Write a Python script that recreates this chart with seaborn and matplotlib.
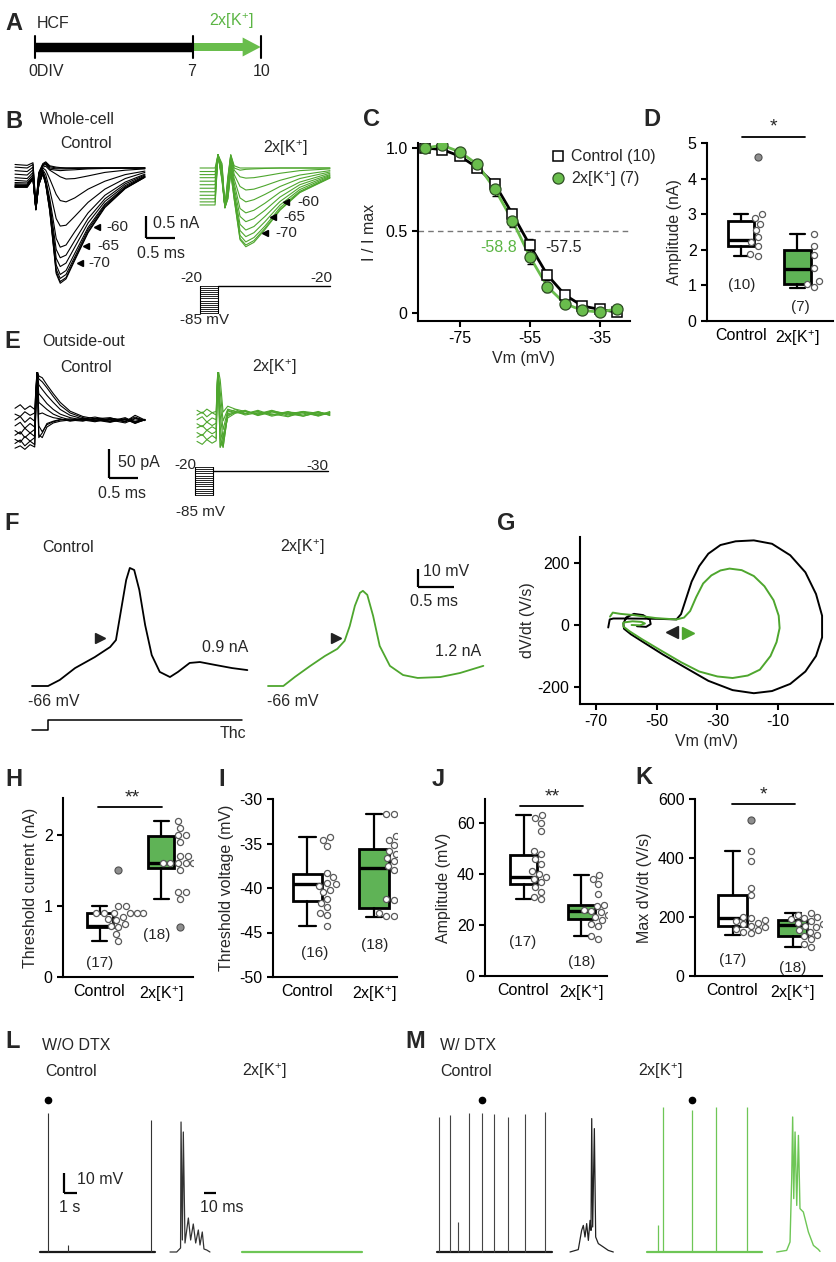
import matplotlib
matplotlib.use("Agg")
import matplotlib.pyplot as plt
import seaborn as sns
import pandas as pd

W, H = 837, 1262

GREEN_TRACE = "#4ea62e"
GREEN_FILL = "#5fb356"
GREEN_DOT = "#69bd4c"
GREEN_TEXT = "#5bb544"
GREEN_LONG = "#6ec656"
GREY_PT = "#5a5a5a"
K_LABEL = r"2x[K$^{+}$]"

# ---------------- data ----------------
# A: culture timeline (days in vitro)
timeline_days = [0, 7, 10]

# B: whole-cell Na+ currents (time in ms, current in nA)
b_ctrl_t = [0, 0.21, 0.31, 0.36, 0.41, 0.48, 0.53, 0.60, 0.71, 0.78, 0.88, 1.03, 1.26, 1.55, 1.90, 2.24]
b_ctrl_traces = [
    [0.08, 0.06, 0.12, -0.85, -0.10, 0.10, 0.14, 0.05, 0.02, 0.01, 0.0, 0.0, 0.0, 0.0, 0.0, 0.0],
    [0.02, 0.0, 0.08, -0.87, -0.12, 0.08, 0.12, 0.03, 0.0, 0.0, 0.0, 0.0, 0.0, 0.0, 0.0, 0.0],
    [-0.06, -0.08, 0.02, -0.88, -0.14, 0.07, 0.10, 0.0, -0.02, -0.02, -0.02, -0.01, 0.0, 0.0, 0.0, 0.0],
    [-0.14, -0.16, -0.04, -0.90, -0.16, 0.05, 0.08, -0.03, -0.05, -0.06, -0.05, -0.04, -0.02, -0.01, 0.0, 0.0],
    [-0.22, -0.24, -0.10, -0.90, -0.20, 0.02, 0.04, -0.05, -0.14, -0.20, -0.25, -0.24, -0.18, -0.10, -0.05, -0.02],
    [-0.28, -0.30, -0.15, -0.92, -0.25, 0.0, -0.05, -0.25, -0.60, -0.74, -0.77, -0.68, -0.48, -0.30, -0.15, -0.07],
    [-0.33, -0.34, -0.20, -0.92, -0.30, -0.04, -0.15, -0.50, -1.15, -1.32, -1.30, -1.10, -0.78, -0.48, -0.24, -0.10],
    [-0.36, -0.37, -0.20, -0.93, -0.32, -0.07, -0.25, -0.70, -1.60, -1.80, -1.75, -1.45, -1.02, -0.62, -0.32, -0.14],
    [-0.38, -0.39, -0.22, -0.93, -0.35, -0.09, -0.30, -0.80, -1.85, -2.04, -1.98, -1.65, -1.15, -0.70, -0.36, -0.16],
    [-0.40, -0.40, -0.22, -0.94, -0.36, -0.10, -0.32, -0.85, -2.05, -2.24, -2.16, -1.80, -1.25, -0.76, -0.40, -0.18],
    [-0.41, -0.41, -0.23, -0.94, -0.37, -0.11, -0.35, -0.90, -2.20, -2.42, -2.33, -1.94, -1.35, -0.82, -0.43, -0.19],
    [-0.42, -0.42, -0.24, -0.95, -0.38, -0.12, -0.36, -0.95, -2.30, -2.51, -2.42, -2.02, -1.40, -0.85, -0.45, -0.20],
    [-0.43, -0.43, -0.24, -0.95, -0.38, -0.12, -0.37, -0.97, -2.36, -2.58, -2.49, -2.07, -1.45, -0.88, -0.46, -0.21],
    [-0.44, -0.44, -0.25, -0.95, -0.39, -0.13, -0.38, -0.99, -2.40, -2.62, -2.52, -2.10, -1.47, -0.90, -0.47, -0.21],
]
b_hk_t = [0, 0.26, 0.31, 0.38, 0.43, 0.48, 0.53, 0.59, 0.69, 0.79, 0.93, 1.12, 1.38, 1.72, 2.24]
b_hk_traces = [
    [0.0, 0.0, 0.30, 0.10, -0.90, -0.20, 0.30, 0.05, 0.0, 0.0, 0.0, 0.0, 0.0, 0.0, 0.0],
    [-0.08, -0.08, 0.30, 0.05, -0.90, -0.25, 0.30, 0.0, -0.05, -0.03, -0.02, -0.01, 0.0, 0.0, 0.0],
    [-0.15, -0.15, 0.30, 0.0, -0.90, -0.30, 0.28, -0.05, -0.20, -0.23, -0.22, -0.18, -0.12, -0.06, -0.02],
    [-0.22, -0.22, 0.30, -0.05, -0.90, -0.35, 0.25, -0.15, -0.42, -0.50, -0.48, -0.40, -0.28, -0.16, -0.06],
    [-0.30, -0.30, 0.30, -0.10, -0.90, -0.40, 0.20, -0.25, -0.68, -0.77, -0.72, -0.60, -0.42, -0.24, -0.09],
    [-0.38, -0.38, 0.30, -0.10, -0.90, -0.45, 0.15, -0.35, -0.92, -1.02, -0.96, -0.80, -0.55, -0.32, -0.12],
    [-0.46, -0.46, 0.30, -0.15, -0.90, -0.50, 0.10, -0.45, -1.10, -1.22, -1.15, -0.96, -0.66, -0.38, -0.15],
    [-0.54, -0.54, 0.30, -0.20, -0.90, -0.55, 0.05, -0.55, -1.28, -1.41, -1.33, -1.10, -0.76, -0.44, -0.17],
    [-0.62, -0.62, 0.30, -0.20, -0.90, -0.60, 0.0, -0.60, -1.42, -1.56, -1.47, -1.22, -0.84, -0.49, -0.19],
    [-0.70, -0.70, 0.30, -0.25, -0.90, -0.65, -0.05, -0.65, -1.53, -1.68, -1.58, -1.32, -0.90, -0.53, -0.21],
    [-0.77, -0.77, 0.30, -0.25, -0.90, -0.70, -0.10, -0.70, -1.60, -1.75, -1.65, -1.37, -0.94, -0.55, -0.22],
    [-0.84, -0.84, 0.30, -0.30, -0.90, -0.70, -0.10, -0.72, -1.63, -1.79, -1.69, -1.40, -0.96, -0.56, -0.23],
]
step_levels = [-85, -80, -75, -70, -65, -60, -55, -50, -45, -40, -35, -30, -25, -20]
b_hold = -20
e_hold = -30

# C: steady-state inactivation (Vm in mV, I/Imax)
c_vm = [-85, -80, -75, -70, -65, -60, -55, -50, -45, -40, -35, -30]
c_ctrl = [1.0, 0.99, 0.95, 0.88, 0.78, 0.60, 0.41, 0.23, 0.11, 0.043, 0.022, 0.006]
c_ctrl_err = [0.0, 0.01, 0.01, 0.02, 0.03, 0.03, 0.04, 0.03, 0.02, 0.01, 0.01, 0.01]
c_hk = [1.0, 1.016, 0.976, 0.90, 0.75, 0.56, 0.34, 0.16, 0.057, 0.016, 0.006, 0.026]
c_hk_err = [0.0, 0.01, 0.01, 0.02, 0.04, 0.04, 0.04, 0.03, 0.02, 0.01, 0.01, 0.01]

# D: whole-cell current amplitude (nA) -> [whislo, q1, med, q3, whishi]
d_ctrl = [3.0, 2.88, 2.72, 2.55, 2.35, 2.22, 2.12, 1.88, 1.82]
d_ctrl_out = [4.62]
d_ctrl_box = [1.82, 2.1, 2.27, 2.8, 3.0]
d_hk = [2.45, 2.1, 1.85, 1.48, 1.12, 1.03, 0.95]
d_hk_out = []
d_hk_box = [0.93, 1.05, 1.45, 2.0, 2.45]

# E: outside-out currents (ms, pA)
e_ctrl_t = [0, 0.09, 0.17, 0.26, 0.34, 0.38, 0.41, 0.47, 0.55, 0.66, 0.78, 0.95, 1.17, 1.38, 1.64, 1.90, 2.07, 2.24]
e_ctrl_traces = [
    [20, 26, 18, 24, 18, 85, 75, 72, 60, 45, 30, 15, 6, 2, 4, -3, 3, 0],
    [10, 6, 14, 8, 12, 85, 70, 65, 55, 40, 25, 12, 4, 0, -4, 2, -2, 1],
    [0, 6, -4, 4, -2, 85, 60, 52, 42, 30, 18, 8, 2, 5, 0, -5, 2, -1],
    [-10, -4, -14, -6, -12, 85, 45, 38, 28, 18, 10, 4, 0, -3, 3, 0, -3, 1],
    [-18, -24, -14, -22, -16, 85, 30, 25, 18, 10, 5, 0, -2, 3, -2, 4, -4, 0],
    [-26, -20, -30, -22, -28, 85, 10, 12, 8, 4, 2, -2, 1, -1, 2, -2, 5, -1],
    [-33, -38, -28, -36, -30, 85, -10, -20, -8, -3, 0, 2, -1, 2, -3, 1, -5, 0],
    [-40, -34, -44, -36, -42, 85, -25, -30, -12, -5, -2, 0, 2, -2, 1, -3, 8, 0],
    [-48, -44, -50, -42, -46, 85, -30, -22, -6, -2, 1, -1, 3, 0, -2, 2, -6, 1],
]
e_hk_t = [0, 0.09, 0.17, 0.26, 0.33, 0.36, 0.40, 0.45, 0.53, 0.66, 0.83, 1.05, 1.29, 1.57, 1.83, 2.09, 2.29]
e_hk_traces = [
    [8, 3, 10, 4, 6, 80, 60, 5, 15, 10, 6, 2, 8, 0, 6, -2, 4],
    [0, 5, -3, 4, 0, 80, 40, -10, 10, 6, 2, 8, 0, 6, -2, 4, 0],
    [-8, -3, -12, -5, -8, 80, 20, -25, 8, 4, 8, 0, 6, -2, 5, 0, 3],
    [-15, -20, -12, -18, -14, 80, 0, -40, 5, 9, 3, 6, -2, 4, 0, 6, -1],
    [-22, -18, -26, -20, -24, 80, -20, -55, 2, 6, 0, 4, 2, -3, 5, 1, 4],
    [-30, -35, -26, -32, -28, 80, -40, -55, 0, 4, 7, -1, 5, 2, -2, 5, 2],
    [-38, -33, -42, -35, -40, 80, -55, -45, -2, 5, 2, 6, 0, 5, 3, -1, 6],
    [-45, -50, -42, -48, -44, 80, -55, -35, -5, 3, 6, 1, 7, 2, 6, 3, 1],
]

# F: action potentials at threshold current (ms, mV)
f_ctrl_t = [0, 0.22, 0.38, 0.59, 0.86, 1.07, 1.15, 1.22, 1.29, 1.34, 1.40, 1.47, 1.55, 1.64, 1.75,
            1.89, 2.0, 2.16, 2.30, 2.51, 2.74, 2.95]
f_ctrl_v = [-66, -66, -62.7, -56.2, -50.2, -44.7, -40.9, -24.5, -8.1, -1.5, -2.6, -13.5, -32.7, -49.1,
            -58.3, -61.1, -58.3, -53.4, -52.9, -54.5, -56.2, -57.3]
f_hk_t = [0, 0.21, 0.37, 0.58, 0.78, 0.95, 1.05, 1.12, 1.19, 1.26, 1.30, 1.36, 1.44, 1.53, 1.67, 1.85,
          2.05, 2.36, 2.63, 2.95]
f_hk_v = [-66, -66, -61, -55, -49.6, -45.7, -41.3, -33.2, -22.2, -15.1, -14, -16.2, -27.7, -44.1, -55,
          -60, -61.6, -61.1, -58.9, -55]
f_step_t = [0, 0.22, 0.22, 2.88]
f_step_v = [-90, -90, -84.6, -84.6]

# G: phase plots (Vm in mV, dV/dt in V/s)
g_ctrl_vm = [-66, -65.5, -64.3, -60, -50, -43.5, -42, -40.5, -38.5, -36, -33, -29, -24, -18, -12, -6, -1,
             2.5, 4.5, 4.5, 2.5, -1, -6, -12, -18, -25, -33, -41, -48, -54, -58.5, -60.8, -61, -60, -57.5,
             -54.5, -52.3, -52, -53.5, -56.5]
g_ctrl_dvdt = [-8, 18, 21, 21, 20, 18, 35, 80, 140, 190, 230, 258, 270, 273, 262, 225, 170, 100, 30, -40,
               -100, -150, -190, -213, -220, -210, -180, -135, -95, -58, -30, -12, 5, 25, 36, 32, 18, 3,
               -6, -4]
g_hk_vm = [-65.4, -64.5, -62, -57.7, -50, -43.5, -41, -39, -37, -34.7, -32, -29, -26, -22, -18, -14.5,
           -11.5, -9.8, -9.5, -10.5, -12.5, -16, -20, -25, -30, -36, -42, -49, -55, -59, -61, -61, -58,
           -55, -53.9, -55.5, -58.3]
g_hk_dvdt = [27, 40, 36, 32, 22, 18, 24, 45, 90, 134, 160, 176, 182, 177, 158, 125, 80, 30, -10, -55,
             -100, -144, -163, -171, -166, -150, -120, -80, -45, -20, -5, 8, 12, 10, 5, -1, 0]

# H-K: AP properties -> [whislo, q1, med, q3, whishi]
h_ctrl = [1.0, 1.0, 0.9, 0.9, 0.9, 0.9, 0.9, 0.9, 0.85, 0.82, 0.8, 0.75, 0.72, 0.7, 0.6, 0.5]
h_ctrl_out = [1.5]
h_ctrl_box = [0.5, 0.7, 0.72, 0.9, 1.0]
h_hk = [2.2, 2.1, 2.0, 2.0, 1.9, 1.7, 1.7, 1.6, 1.6, 1.6, 1.6, 1.6, 1.6, 1.5, 1.2, 1.2, 1.1]
h_hk_out = [0.7]
h_hk_box = [1.1, 1.53, 1.6, 1.98, 2.2]

i_ctrl = [-34.3, -34.6, -35.3, -38.3, -38.8, -39.4, -39.6, -39.8, -40.2, -40.5, -41.2, -41.7, -42.1,
          -42.8, -43.0, -44.3]
i_ctrl_box = [-44.3, -41.5, -39.6, -38.4, -34.3]
i_hk = [-31.7, -31.7, -34.2, -34.6, -35.2, -35.8, -36.2, -36.6, -37.0, -37.5, -38.0, -41.2, -41.3, -42.5,
        -42.8, -43.0, -43.1, -43.2]
i_hk_box = [-43.3, -42.3, -37.7, -35.6, -31.7]

j_ctrl = [63, 62, 60, 57, 49, 48, 46, 44, 41, 40, 39, 38, 37, 35, 33, 31, 30]
j_ctrl_box = [30, 36, 39, 47.5, 63]
j_hk = [39.5, 38, 36, 32, 28, 27.5, 27, 26.5, 26, 25.5, 25, 24, 23, 22, 20.5, 19.5, 15.5, 14.5]
j_hk_box = [15.5, 22.5, 25.5, 28, 39.5]

k_ctrl = [425, 390, 300, 275, 200, 195, 190, 185, 180, 175, 170, 165, 160, 155, 150, 145]
k_ctrl_out = [530]
k_ctrl_box = [140, 168, 195, 275, 425]
k_hk = [212, 208, 200, 195, 192, 190, 185, 180, 175, 170, 165, 155, 150, 140, 135, 125, 110, 100]
k_hk_box = [98, 137, 172, 190, 212]

# L, M: spontaneous firing (s, mV above baseline) and expanded bursts (ms, mV)
l_ctrl_span = [0, 8.85]
l_ctrl_spike_t = [0.62, 2.15, 8.54]
l_ctrl_spike_v = [69.5, 3.5, 66]
l_burst_t = [0, 5.6, 8.8, 9.2, 10.3, 11.1, 12.5, 15.3, 17.2, 19.4, 21.4, 23.6, 25, 26.9, 28.3, 30.6, 33.3]
l_burst_v = [0, 0, 2, 65, 6, 60, 4.5, 17, 6, 14, 4.5, 11, 3.5, 10, 1.5, 1, 0]
l_hk_span = [0, 9.2]

m_ctrl_span = [0, 8.85]
m_ctrl_spike_t = [0.15, 1.0, 1.59, 2.49, 3.44, 4.41, 5.44, 6.77, 8.31]
m_ctrl_spike_v = [67.7, 68.5, 15, 69.7, 69.3, 69, 67.3, 69.2, 70.2]
m_ctrl_burst_t = [0, 6.9, 9.7, 11.1, 12.5, 13.9, 15.3, 16.7, 17.5, 18.1, 18.9, 20.3, 21.4, 23.6, 27.8, 31.9, 36.1]
m_ctrl_burst_v = [0, 1.2, 10.8, 13.3, 7.5, 14.2, 5.8, 15.8, 10.8, 66.7, 12.5, 61.7, 7.5, 4.2, 2.5, 0.8, 0]
m_hk_span = [0, 8.85]
m_hk_spike_t = [0.9, 1.23, 3.46, 5.31, 7.74]
m_hk_spike_v = [13.3, 72.7, 71, 72.7, 72.7]
m_hk_burst_t = [0, 8.3, 11.1, 12.5, 13.3, 14.2, 15.3, 16.7, 18.1, 19.4, 22.2, 23.6, 26.4, 30.6, 34.7, 36.1]
m_hk_burst_v = [0, 0.8, 5, 36.7, 67.5, 26.7, 60, 23.3, 58.3, 21.7, 20, 16.7, 10, 3.3, 1.3, 0.3]

# ---------------- style ----------------
FS = 11.5
sns.set_style("ticks")
plt.rcParams["font.family"] = ["Liberation Sans", "DejaVu Sans"]
plt.rcParams["mathtext.fontset"] = "custom"
plt.rcParams["mathtext.rm"] = "Liberation Sans"
plt.rcParams["mathtext.it"] = "Liberation Sans:italic"
plt.rcParams["axes.unicode_minus"] = False
plt.rcParams["font.size"] = FS
plt.rcParams["axes.linewidth"] = 1.5
plt.rcParams["axes.edgecolor"] = "black"
plt.rcParams["axes.facecolor"] = "none"
plt.rcParams["xtick.major.width"] = 1.5
plt.rcParams["ytick.major.width"] = 1.5
plt.rcParams["xtick.major.size"] = 4
plt.rcParams["ytick.major.size"] = 4
plt.rcParams["xtick.labelsize"] = FS
plt.rcParams["ytick.labelsize"] = FS
plt.rcParams["axes.labelsize"] = FS
plt.rcParams["xtick.color"] = "black"
plt.rcParams["ytick.color"] = "black"

fig = plt.figure(figsize=(W / 100, H / 100), dpi=100)
fig.patch.set_facecolor("white")


def px_axes(x0, y0, x1, y1):
    return fig.add_axes([x0 / W, 1 - y1 / H, (x1 - x0) / W, (y1 - y0) / H])


def trace_axes(x0, x1, y0, y1, px_t0, x_scale, px_v0, v0, y_scale):
    # axes placed in pixel box; data scale given in px per unit
    ax = px_axes(x0, y0, x1, y1)
    ax.set_xlim((x0 - px_t0) / x_scale, (x1 - px_t0) / x_scale)
    ax.set_ylim(v0 - (y1 - px_v0) / y_scale, v0 + (px_v0 - y0) / y_scale)
    ax.axis("off")
    return ax


def scale_bar(ax, x, y, dx, dy):
    ax.plot([x, x], [y, y + dy], color="black", lw=1.6, clip_on=False, solid_capstyle="butt")
    ax.plot([x, x + dx], [y, y], color="black", lw=1.6, clip_on=False, solid_capstyle="butt")


def protocol(ax, hold, t_end):
    for lv in step_levels:
        ax.plot([0, 0.31], [lv, lv], color="black", lw=0.6)
    ax.plot([0, 0], [step_levels[0], step_levels[-1]], color="black", lw=0.8)
    ax.plot([0.31, 0.31], [step_levels[0], step_levels[-1]], color="black", lw=0.8)
    ax.plot([0.31, t_end], [hold, hold], color="black", lw=1.0)


def box_panel(box, xlim, ylim, yticks, ylabel, ctrl, ctrl_out, ctrl_box, hk, hk_out, hk_box, width):
    ax = px_axes(*box)
    stats = [dict(whislo=b[0], q1=b[1], med=b[2], q3=b[3], whishi=b[4], fliers=[])
             for b in (ctrl_box, hk_box)]
    art = ax.bxp(stats, positions=[0, 1], widths=width, capwidths=width * 0.55,
                 patch_artist=True, showfliers=False,
                 boxprops=dict(linewidth=2.0, edgecolor="black"),
                 whiskerprops=dict(linewidth=1.6, color="black"),
                 capprops=dict(linewidth=1.6, color="black"),
                 medianprops=dict(linewidth=2.4, color="black"))
    art["boxes"][0].set_facecolor("white")
    art["boxes"][1].set_facecolor(GREEN_FILL)
    shift = 0.3
    pts = pd.DataFrame({"pos": [shift] * len(ctrl) + [1 + shift] * len(hk), "val": ctrl + hk})
    sns.swarmplot(data=pts, x="pos", y="val", native_scale=True, orient="x", ax=ax, size=4.4,
                  color="white", edgecolor=GREY_PT, linewidth=0.9, zorder=4)
    out = pd.DataFrame({"pos": [shift] * len(ctrl_out) + [1 + shift] * len(hk_out),
                        "val": ctrl_out + hk_out})
    if len(out):
        sns.scatterplot(data=out, x="pos", y="val", ax=ax, s=26, color="#8e8e8e",
                        edgecolor="#505050", linewidth=0.8, zorder=4)
    ax.set_xlim(*xlim)
    ax.set_ylim(*ylim)
    ax.set_xticks([0, 1])
    ax.set_xticklabels(["Control", K_LABEL])
    ax.tick_params(axis="x", length=0, pad=5)
    ax.set_yticks(yticks)
    ax.set_xlabel("")
    ax.set_ylabel(ylabel, labelpad=4)
    sns.despine(ax=ax)
    return ax


# ---------------- A ----------------
ax = trace_axes(30, 275, 34, 60, 35, 22.57, 47, 0, 1)
ax.plot(timeline_days[:2], [0, 0], color="black", lw=6.8, solid_capstyle="butt")
ax.arrow(timeline_days[1], 0, timeline_days[2] - timeline_days[1], 0, width=8, head_width=19,
         head_length=0.8, length_includes_head=True, color=GREEN_DOT, lw=0)
for d in timeline_days:
    ax.plot([d, d], [-11, 11], color="black", lw=1.5)

# ---------------- B ----------------
ax = trace_axes(12, 190, 145, 295, 15, 58, 168, 0, 44)
for tr in b_ctrl_traces:
    ax.plot(b_ctrl_t, tr, color="black", lw=0.8)
scale_bar(ax, 2.26, -1.59, 0.5, 0.5)
ax = trace_axes(195, 335, 150, 295, 200, 58, 168, 0, 44)
for tr in b_hk_traces:
    ax.plot(b_hk_t, tr, color=GREEN_TRACE, lw=0.8)
ax = trace_axes(195, 335, 280, 318, 200, 58, 286, -20, 0.415)
protocol(ax, b_hold, 2.24)

# ---------------- C ----------------
ax = px_axes(418, 143, 630, 321)
ax.axhline(0.5, color="#777777", lw=1.0, ls=(0, (4, 3)))
sns.lineplot(x=c_vm, y=c_ctrl, ax=ax, color="black", lw=2.0)
sns.lineplot(x=c_vm, y=c_hk, ax=ax, color=GREEN_DOT, lw=2.0)
ax.errorbar(c_vm, c_ctrl, yerr=c_ctrl_err, fmt="none", ecolor="black", elinewidth=1, capsize=2)
ax.errorbar(c_vm, c_hk, yerr=c_hk_err, fmt="none", ecolor="black", elinewidth=1, capsize=2)
sq = ax.plot(c_vm, c_ctrl, ls="none", marker="s", ms=7.5, mfc="white", mec="black", mew=1.1,
             label="Control (10)")[0]
ci = ax.plot(c_vm, c_hk, ls="none", marker="o", ms=8, mfc=GREEN_DOT, mec="#2f4f25", mew=0.9,
             label=K_LABEL + " (7)")[0]
ax.legend(handles=[sq, ci], loc="upper left", bbox_to_anchor=(0.6, 1.0), frameon=False,
          handlelength=0.8, handletextpad=0.4, labelspacing=0.3, borderaxespad=0, fontsize=FS)
ax.set_xlim(-87, -26.4)
ax.set_ylim(-0.048, 1.03)
ax.set_xticks([-75, -55, -35])
ax.set_yticks([0, 0.5, 1.0])
ax.set_yticklabels(["0", "0.5", "1.0"])
ax.set_xlabel("Vm (mV)", labelpad=3)
ax.set_ylabel("I / I max", labelpad=6)
sns.despine(ax=ax)

# ---------------- D ----------------
box_panel((707, 143, 833, 321), (-0.6, 1.63), (0, 5), [0, 1, 2, 3, 4, 5], "Amplitude (nA)",
          d_ctrl, d_ctrl_out, d_ctrl_box, d_hk, d_hk_out, d_hk_box, 0.47)

# ---------------- E ----------------
ax = trace_axes(12, 150, 372, 460, 15, 58, 420, 0, 0.587)
for tr in e_ctrl_traces:
    ax.plot(e_ctrl_t, tr, color="black", lw=0.8)
scale_bar(ax, 1.62, -98.8, 0.5, 50)
ax = trace_axes(192, 335, 372, 460, 197, 58, 415, 0, 0.587)
for tr in e_hk_traces:
    ax.plot(e_hk_t, tr, color=GREEN_TRACE, lw=0.8)
ax = trace_axes(190, 335, 462, 500, 195, 58, 467, -20, 0.43)
protocol(ax, e_hold, 2.3)

# ---------------- F ----------------
ax = trace_axes(20, 255, 555, 745, 32, 73, 686, -66, 1.83)
ax.plot(f_ctrl_t, f_ctrl_v, color="black", lw=1.3)
ax.plot(f_step_t, f_step_v, color="black", lw=1.1)
ax.plot([0.93], [-40], marker=">", ms=6.5, color="#222222")
ax = trace_axes(260, 495, 555, 745, 268, 73, 686, -66, 1.83)
ax.plot(f_hk_t, f_hk_v, color=GREEN_TRACE, lw=1.3)
ax.plot([0.93], [-39.8], marker=">", ms=6.5, color="#222222")
scale_bar(ax, 2.05, -11.9, 0.5, 10)

# ---------------- G ----------------
ax = px_axes(580, 537, 833, 704)
ax.plot(g_ctrl_vm, g_ctrl_dvdt, color="black", lw=1.4)
ax.plot(g_hk_vm, g_hk_dvdt, color=GREEN_TRACE, lw=1.4)
ax.plot([-44.9], [-22], marker="<", ms=8, color="#222222")
ax.plot([-39.7], [-26], marker=">", ms=8, color=GREEN_TRACE)
ax.set_xlim(-75.3, 8.1)
ax.set_ylim(-254.8, 283.9)
ax.set_xticks([-70, -50, -30, -10])
ax.set_yticks([-200, 0, 200])
ax.set_xlabel("Vm (mV)", labelpad=3)
ax.set_ylabel("dV/dt (V/s)", labelpad=2)
sns.despine(ax=ax)

# ---------------- H-K ----------------
box_panel((63, 798, 193, 977), (-0.59, 1.51), (0, 2.52), [0, 1, 2], "Threshold current (nA)",
          h_ctrl, h_ctrl_out, h_ctrl_box, h_hk, h_hk_out, h_hk_box, 0.42)
box_panel((273, 799, 397, 977), (-0.52, 1.35), (-50, -30), [-50, -45, -40, -35, -30],
          "Threshold voltage (mV)", i_ctrl, [], i_ctrl_box, i_hk, [], i_hk_box, 0.45)
box_panel((485, 799, 607, 976), (-0.67, 1.45), (0, 69.4), [0, 20, 40, 60], "Amplitude (mV)",
          j_ctrl, [], j_ctrl_box, j_hk, [], j_hk_box, 0.47)
box_panel((695, 799, 822, 976), (-0.625, 1.49), (0, 600), [0, 200, 400, 600], "Max dV/dt (V/s)",
          k_ctrl, k_ctrl_out, k_ctrl_box, k_hk, [], k_hk_box, 0.48)

# ---------------- L ----------------
ax = trace_axes(38, 160, 1095, 1258, 40, 13, 1252, 0, 2)
ax.plot(l_ctrl_span, [0, 0], color="#1a1a1a", lw=1.6)
ax.vlines(l_ctrl_spike_t, 0, l_ctrl_spike_v, color="#333333", lw=0.8)
scale_bar(ax, 1.85, 29.5, 1, 10)
ax = trace_axes(168, 216, 1095, 1258, 170, 1.2, 1252, 0, 2)
ax.plot(l_burst_t, l_burst_v, color="#333333", lw=0.9)
ax.plot([28.3, 38.3], [29.5, 29.5], color="black", lw=1.6, clip_on=False, solid_capstyle="butt")
ax = trace_axes(240, 365, 1095, 1258, 242, 13, 1252, 0, 2)
ax.plot(l_hk_span, [0, 0], color=GREEN_LONG, lw=1.6)

# ---------------- M ----------------
ax = trace_axes(435, 556, 1095, 1258, 437, 13, 1252, 0, 2)
ax.plot(m_ctrl_span, [0, 0], color="#1a1a1a", lw=1.6)
ax.vlines(m_ctrl_spike_t, 0, m_ctrl_spike_v, color="#444444", lw=0.8)
ax = trace_axes(568, 616, 1095, 1258, 570, 1.2, 1252, 0, 2)
ax.plot(m_ctrl_burst_t, m_ctrl_burst_v, color="#222222", lw=0.9)
ax = trace_axes(645, 765, 1095, 1258, 646.7, 13, 1252, 0, 2)
ax.plot(m_hk_span, [0, 0], color=GREEN_LONG, lw=1.6)
ax.vlines(m_hk_spike_t, 0, m_hk_spike_v, color=GREEN_LONG, lw=0.9)
ax = trace_axes(775, 822, 1095, 1258, 776.7, 1.2, 1252, 0, 2)
ax.plot(m_hk_burst_t, m_hk_burst_v, color=GREEN_LONG, lw=1.0)

# ---------------- text overlay (pixel coordinates) ----------------
canvas = fig.add_axes([0, 0, 1, 1], zorder=10)
canvas.set_xlim(0, W)
canvas.set_ylim(H, 0)
canvas.axis("off")


def txt(x, y, s, size=FS, ha="left", **kw):
    canvas.text(x, y, s, fontsize=size, ha=ha, va="center", **kw)


for letter, x, y in [("A", 5, 23), ("B", 5, 121), ("C", 363, 120), ("D", 643, 120), ("E", 4, 341),
                     ("F", 4, 524), ("G", 497, 524), ("H", 5, 779), ("I", 218, 779), ("J", 432, 779),
                     ("K", 635, 777), ("L", 5, 1041), ("M", 405, 1041)]:
    txt(x, y, letter, size=17, fontweight="bold")

# A
txt(37, 23, "HCF")
txt(209, 21, K_LABEL, color=GREEN_TEXT)
txt(28, 72, "0DIV")
txt(191.5, 72, "7", ha="center")
txt(261.5, 72, "10", ha="center")

# B
txt(40, 120, "Whole-cell")
txt(60, 144, "Control")
txt(263, 148, K_LABEL)
for ax_x, tx, y, s in [(97, 106, 227, "-60"), (86, 97, 246, "-65"), (80, 88, 263, "-70"),
                       (286, 297, 202, "-60"), (273, 283, 217, "-65"), (265, 275, 233, "-70")]:
    canvas.plot([ax_x], [y], marker="<", ms=5, color="black")
    txt(tx, y, s, size=11)
txt(153, 223, "0.5 nA")
txt(137, 254, "0.5 ms")
txt(180, 278, "-20", size=11)
txt(310, 278, "-20", size=11)
txt(180, 320, "-85 mV", size=11)

# C
txt(480, 247, "-58.8", color=GREEN_TEXT)
txt(545, 247, "-57.5")

# D
canvas.plot([742, 805], [137, 137], color="black", lw=1.3)
txt(773, 127, "*", size=14, ha="center")
txt(742, 285, "(10)", size=11, ha="center")
txt(800, 307, "(7)", size=11, ha="center")

# E
txt(42, 342, "Outside-out")
txt(60, 367, "Control")
txt(252, 367, K_LABEL)
txt(118, 462, "50 pA")
txt(98, 493, "0.5 ms")
txt(174, 465, "-20", size=11)
txt(306, 466, "-30", size=11)
txt(176, 512, "-85 mV", size=11)

# F
txt(42, 547, "Control")
txt(280, 547, K_LABEL)
txt(423, 572, "10 mV")
txt(410, 602, "0.5 ms")
txt(202, 648, "0.9 nA")
txt(435, 652, "1.2 nA")
txt(28, 702, "-66 mV")
txt(267, 702, "-66 mV")
txt(220, 733, "Thc")

# H-K significance and n
for x0, x1, y, star, sx in [(98, 162, 807, "**", 132), (520, 583, 806, "**", 552), (732, 795, 804, "*", 763)]:
    canvas.plot([x0, x1], [y, y], color="black", lw=1.3)
    txt(sx, y - 9, star, size=14, ha="center")
for x, y, s in [(100, 963, "(17)"), (157, 935, "(18)"), (315, 953, "(16)"), (375, 945, "(18)"),
                (523, 942, "(17)"), (582, 962, "(18)"), (733, 960, "(17)"), (793, 968, "(18)")]:
    txt(x, y, s, size=11, ha="center")

# L, M
txt(42, 1045, "W/O DTX")
txt(45, 1071, "Control")
txt(242, 1071, K_LABEL)
txt(77, 1180, "10 mV")
txt(59, 1207, "1 s")
txt(200, 1207, "10 ms")
txt(440, 1045, "W/ DTX")
txt(440, 1071, "Control")
txt(638, 1071, K_LABEL)
canvas.plot([48, 482, 692], [1100, 1100, 1100], ls="none", marker="o", ms=4.5, color="black")

fig.savefig("out.png", dpi=100)
